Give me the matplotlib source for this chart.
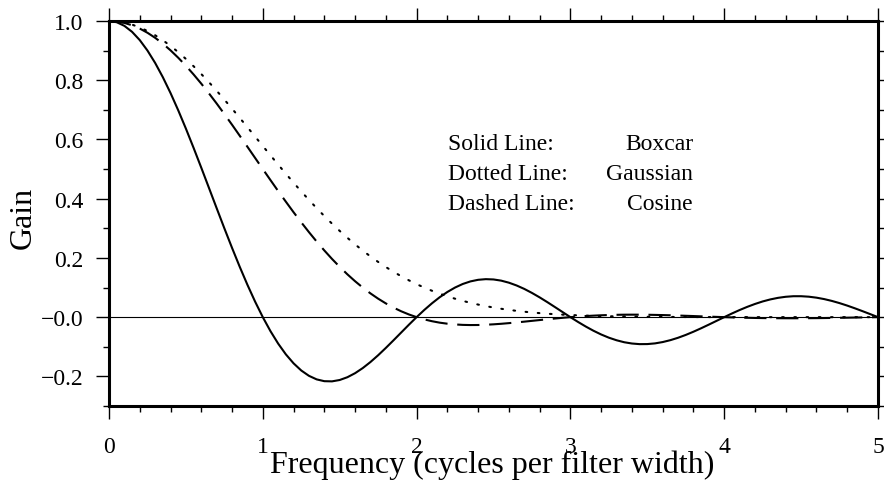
import matplotlib.pyplot as plt
from matplotlib.ticker import MultipleLocator

plt.rcParams['font.family'] = ['Liberation Serif', 'DejaVu Serif']
plt.rcParams['lines.scale_dashes'] = False

# Filter gain at 0.05 cycle steps
freq = [0.00, 0.05, 0.10, 0.15, 0.20, 0.25, 0.30, 0.35, 0.40, 0.45,
        0.50, 0.55, 0.60, 0.65, 0.70, 0.75, 0.80, 0.85, 0.90, 0.95,
        1.00, 1.05, 1.10, 1.15, 1.20, 1.25, 1.30, 1.35, 1.40, 1.45,
        1.50, 1.55, 1.60, 1.65, 1.70, 1.75, 1.80, 1.85, 1.90, 1.95,
        2.00, 2.05, 2.10, 2.15, 2.20, 2.25, 2.30, 2.35, 2.40, 2.45,
        2.50, 2.55, 2.60, 2.65, 2.70, 2.75, 2.80, 2.85, 2.90, 2.95,
        3.00, 3.05, 3.10, 3.15, 3.20, 3.25, 3.30, 3.35, 3.40, 3.45,
        3.50, 3.55, 3.60, 3.65, 3.70, 3.75, 3.80, 3.85, 3.90, 3.95,
        4.00, 4.05, 4.10, 4.15, 4.20, 4.25, 4.30, 4.35, 4.40, 4.45,
        4.50, 4.55, 4.60, 4.65, 4.70, 4.75, 4.80, 4.85, 4.90, 4.95,
        5.00]

boxcar = [1.0, 0.9959, 0.9836, 0.9634, 0.9355, 0.9003, 0.8584, 0.8103, 0.7568, 0.6986,
          0.6366, 0.5716, 0.5046, 0.4363, 0.3679, 0.3001, 0.2339, 0.1700, 0.1093, 0.0524,
          0.0, -0.0474, -0.0894, -0.1257, -0.1559, -0.1801, -0.1981, -0.2101, -0.2162, -0.2168,
          -0.2122, -0.2028, -0.1892, -0.1719, -0.1515, -0.1286, -0.1039, -0.0781, -0.0518, -0.0255,
          0.0, 0.0243, 0.0468, 0.0672, 0.0850, 0.1000, 0.1120, 0.1207, 0.1261, 0.1283,
          0.1273, 0.1233, 0.1164, 0.1070, 0.0954, 0.0818, 0.0668, 0.0507, 0.0339, 0.0169,
          0.0, -0.0163, -0.0317, -0.0459, -0.0585, -0.0693, -0.0780, -0.0847, -0.0890, -0.0911,
          -0.0909, -0.0886, -0.0841, -0.0777, -0.0696, -0.0600, -0.0492, -0.0375, -0.0252, -0.0126,
          0.0, 0.0123, 0.0240, 0.0348, 0.0445, 0.0530, 0.0599, 0.0652, 0.0688, 0.0707,
          0.0707, 0.0691, 0.0658, 0.0610, 0.0548, 0.0474, 0.0390, 0.0298, 0.0201, 0.0101,
          0.0]

gaussian = [1.0, 0.9986, 0.9945, 0.9877, 0.9783, 0.9663, 0.9519, 0.9350, 0.9160, 0.8949,
            0.8719, 0.8472, 0.8209, 0.7932, 0.7644, 0.7346, 0.7041, 0.6729, 0.6414, 0.6097,
            0.5779, 0.5463, 0.5151, 0.4843, 0.4540, 0.4245, 0.3959, 0.3681, 0.3414, 0.3157,
            0.2912, 0.2679, 0.2457, 0.2248, 0.2050, 0.1865, 0.1692, 0.1531, 0.1382, 0.1243,
            0.1115, 0.0998, 0.0891, 0.0793, 0.0704, 0.0623, 0.0550, 0.0484, 0.0425, 0.0372,
            0.0325, 0.0283, 0.0246, 0.0213, 0.0184, 0.0158, 0.0136, 0.0116, 0.0099, 0.0085,
            0.0072, 0.0061, 0.0051, 0.0043, 0.0036, 0.0030, 0.0026, 0.0021, 0.0018, 0.0015,
            0.0012, 0.0010, 0.0008, 0.0007, 0.0006, 0.0005, 0.0004, 0.0003, 0.0003, 0.0002,
            0.0002, 0.0001, 0.0001, 0.0001, 0.0, 0.0, 0.0, 0.0, 0.0, 0.0,
            0.0, 0.0, 0.0, 0.0, 0.0, 0.0, 0.0, 0.0, 0.0, 0.0,
            0.0]

cosine = [1.0, 0.9984, 0.9935, 0.9856, 0.9745, 0.9603, 0.9433, 0.9234, 0.9010, 0.8760,
          0.8488, 0.8195, 0.7884, 0.7555, 0.7214, 0.6859, 0.6497, 0.6126, 0.5753, 0.5376,
          0.5, 0.4627, 0.4257, 0.3898, 0.3543, 0.3202, 0.2871, 0.2554, 0.2252, 0.1966,
          0.1698, 0.1446, 0.1213, 0.0998, 0.0802, 0.0624, 0.0464, 0.0322, 0.0198, 0.0091,
          0.0, -0.0076, -0.0137, -0.0186, -0.0221, -0.0246, -0.0261, -0.0267, -0.0265, -0.0256,
          -0.0242, -0.0224, -0.0202, -0.0178, -0.0152, -0.0125, -0.0098, -0.0071, -0.0046, -0.0022,
          0.0, 0.0020, 0.0037, 0.0051, 0.0063, 0.0072, 0.0079, 0.0083, 0.0084, 0.0084,
          0.0081, 0.0076, 0.0070, 0.0063, 0.0055, 0.0046, 0.0037, 0.0027, 0.0018, 0.0009,
          0.0, -0.0008, -0.0015, -0.0021, -0.0027, -0.0031, -0.0034, -0.0036, -0.0037, -0.0038,
          -0.0037, -0.0035, -0.0033, -0.0030, -0.0026, -0.0022, -0.0018, -0.0013, -0.0009, -0.0004,
          0.0]

ytick_vals = [-0.2, 0.0, 0.2, 0.4, 0.6, 0.8, 1.0]
ytick_labels = ['\u22120.2', '\u22120.0', '0.2', '0.4', '0.6', '0.8', '1.0']
xtick_vals = [0, 1, 2, 3, 4, 5]

legend_names = ['Solid Line:', 'Dotted Line:', 'Dashed Line:']
legend_filters = ['Boxcar', 'Gaussian', 'Cosine']

fig = plt.figure(figsize=(8.84, 4.85), dpi=100)
ax = fig.add_axes([109 / 884, 1 - 407 / 485, (878 - 109) / 884, (407 - 22) / 485])

ax.axhline(0, color='black', lw=0.8, zorder=1)
ax.plot(freq, boxcar, color='black', lw=1.5, solid_joinstyle='round')
ax.plot(freq, gaussian, color='black', lw=1.5, dashes=(1.2, 7.6), dash_capstyle='round')
ax.plot(freq, cosine, color='black', lw=1.5, dashes=(16, 7))

ax.set_xlim(0, 5)
ax.set_ylim(-0.3, 1.0)
ax.set_xticks(xtick_vals)
ax.set_xticklabels([str(v) for v in xtick_vals])
ax.set_yticks(ytick_vals)
ax.set_yticklabels(ytick_labels)
ax.xaxis.set_minor_locator(MultipleLocator(0.2))
ax.yaxis.set_minor_locator(MultipleLocator(0.1))

ax.tick_params(which='both', direction='out', top=True, right=True, width=1.0, labelsize=17)
ax.tick_params(which='major', length=9.5)
ax.tick_params(which='minor', length=4.5)
ax.tick_params(axis='x', which='major', pad=12)
ax.tick_params(axis='y', which='major', pad=9)
for s in ax.spines.values():
    s.set_linewidth(2.2)

fig.text(492 / 884, 1 - 473 / 485, 'Frequency (cycles per filter width)',
         fontsize=23, ha='center', va='baseline')
fig.text(23 / 884, 1 - 218 / 485, 'Gain', fontsize=23, rotation=90,
         ha='center', va='center')

for i, (n, f) in enumerate(zip(legend_names, legend_filters)):
    yb = 1 - (150 + 30 * i) / 485
    fig.text(448 / 884, yb, n, fontsize=17, ha='left', va='baseline')
    fig.text(693 / 884, yb, f, fontsize=17, ha='right', va='baseline')

fig.savefig('out.png', dpi=100, facecolor='white')
